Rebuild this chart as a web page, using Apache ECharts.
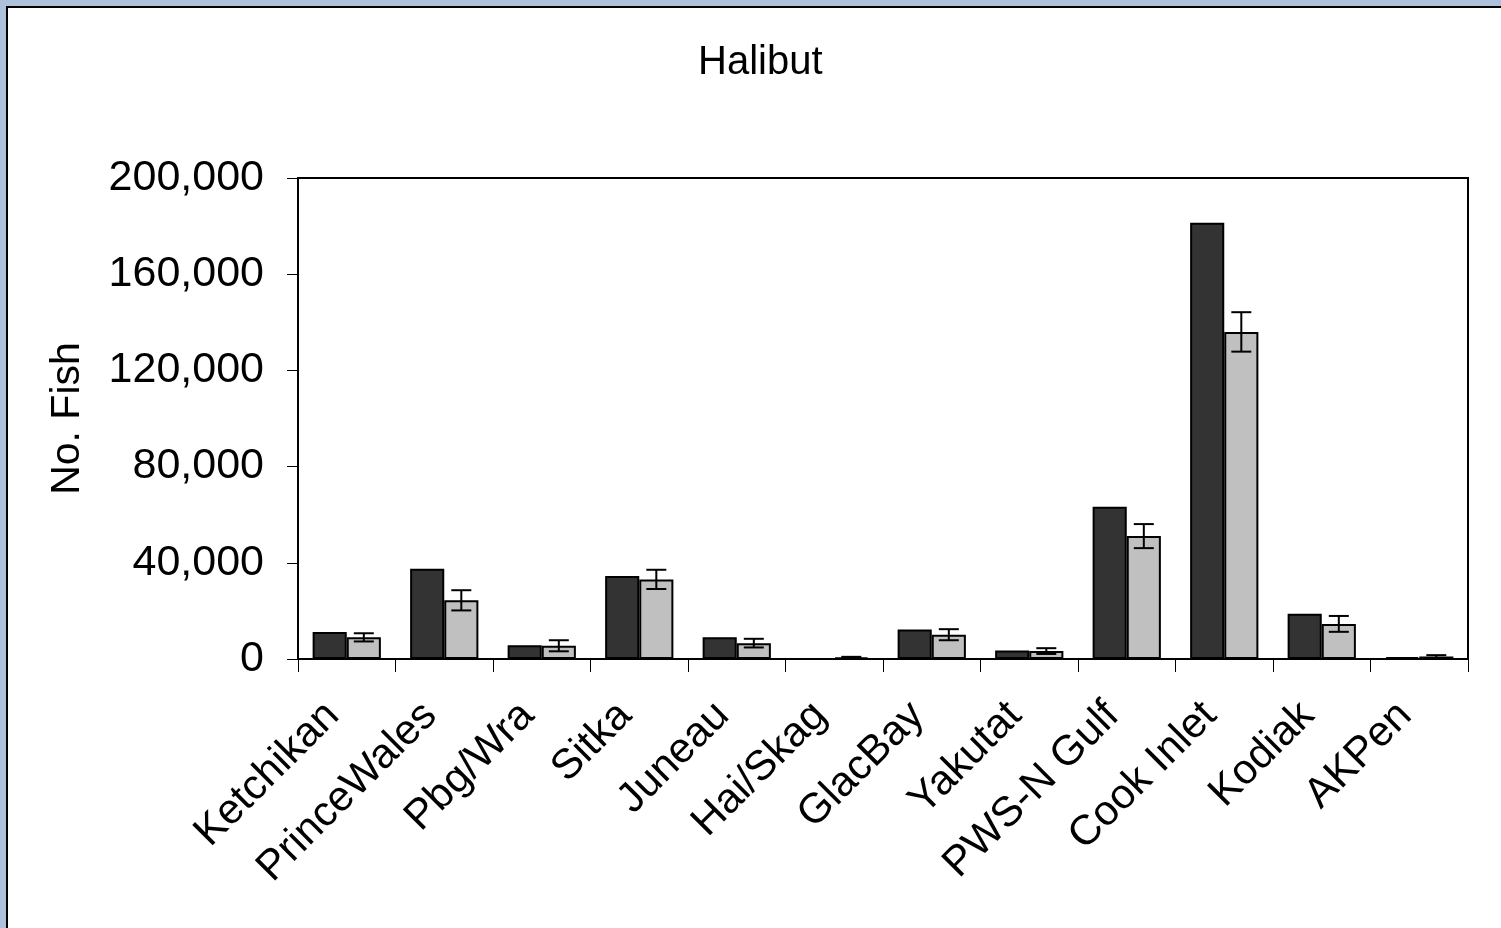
<!DOCTYPE html>
<html>
<head>
<meta charset="utf-8">
<script src="https://cdn.jsdelivr.net/npm/echarts@6/dist/echarts.min.js"></script>
<style>
html,body{margin:0;padding:0;background:#adc1dc;width:1501px;height:928px;overflow:hidden;}
#panel{position:absolute;left:6px;top:6px;width:1510px;height:940px;background:#fff;border-left:2px solid #000;border-top:2px solid #000;}
#chart{position:absolute;left:0;top:0;width:1501px;height:928px;}
</style>
</head>
<body>
<div id="panel"></div>
<div id="chart"></div>
<script>
const categories = ['Ketchikan','PrinceWales','Pbg/Wra','Sitka','Juneau','Hai/Skag','GlacBay','Yakutat','PWS-N Gulf','Cook Inlet','Kodiak','AKPen'];
const seriesA = [11200, 37500, 5700, 34500, 9000, 0, 12300, 3500, 63300, 181400, 18800, 800];
const seriesB = [9000, 24400, 5500, 33100, 6600, 600, 10100, 3300, 51100, 136000, 14600, 1000];
const errorB = [1700, 4200, 2300, 4000, 1800, 300, 2300, 1200, 5000, 8200, 3300, 600];
const yTicks = [0, 40000, 80000, 120000, 160000, 200000];

const chart = echarts.init(document.getElementById('chart'), null, {renderer:'canvas'});
const font = 'Liberation Sans, Arial, sans-serif';
const errData = seriesB.map((v,i)=>[i, v - errorB[i], v + errorB[i]]);

chart.setOption({
  animation:false,
  backgroundColor:'transparent',
  title:{text:'Halibut', left:693, top:38, textStyle:{fontFamily:font, fontSize:40, fontWeight:'normal', color:'#000'}},
  grid:{left:298, right:33, top:178, bottom:269, show:true, borderColor:'#000', borderWidth:2, backgroundColor:'#fff'},
  xAxis:{
    type:'category', data:categories,
    axisLine:{lineStyle:{color:'#000', width:2}},
    axisTick:{show:true, length:13, lineStyle:{color:'#000', width:1}},
    axisLabel:{rotate:45, margin:36, interval:0, padding:[0,20,0,0], fontFamily:font, fontSize:42, color:'#000'}
  },
  yAxis:{
    type:'value', min:yTicks[0], max:yTicks[yTicks.length-1], interval:40000,
    name:'No. Fish', nameLocation:'middle', nameGap:210,
    nameTextStyle:{fontFamily:font, fontSize:41, color:'#000'},
    splitLine:{show:false},
    axisLine:{show:true, lineStyle:{color:'#000', width:2}},
    axisTick:{show:true, length:11, lineStyle:{color:'#000', width:1}},
    axisLabel:{margin:34, fontFamily:font, fontSize:43, color:'#000',
      formatter:v=>v.toLocaleString('en-US')}
  },
  series:[
    {type:'bar', data:seriesA, barWidth:'35%', barGap:'0%', itemStyle:{color:'#333333', borderColor:'#000', borderWidth:2}},
    {type:'bar', data:seriesB, barWidth:'35%', barGap:'0%', itemStyle:{color:'#c0c0c0', borderColor:'#000', borderWidth:2}},
    {type:'custom', data:errData, z:10,
      renderItem:function(params, api){
        const i = api.value(0);
        const lo = api.coord([i, api.value(1)]);
        const hi = api.coord([i, api.value(2)]);
        const bw = api.size([1,0])[0]*0.35;
        const x = lo[0] + bw/2;
        const half = 10;
        const st = {stroke:'#000', lineWidth:2};
        return {type:'group', children:[
          {type:'line', shape:{x1:x, y1:lo[1], x2:x, y2:hi[1]}, style:st},
          {type:'line', shape:{x1:x-half, y1:lo[1], x2:x+half, y2:lo[1]}, style:st},
          {type:'line', shape:{x1:x-half, y1:hi[1], x2:x+half, y2:hi[1]}, style:st}
        ]};
      }
    }
  ]
});
</script>
</body>
</html>
